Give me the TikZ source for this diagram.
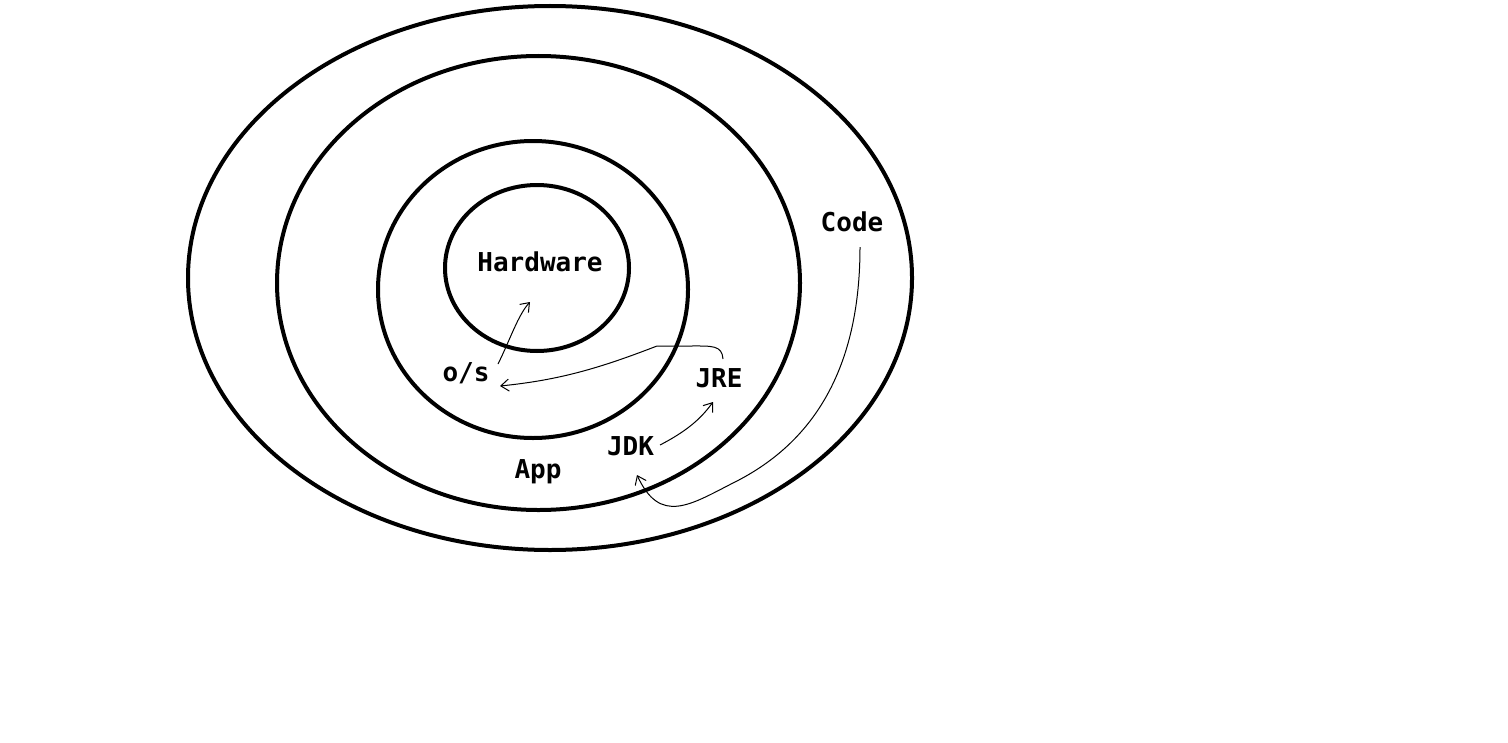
\documentclass[tikz,border=0pt]{standalone}
\usepackage{fontspec}
\setmonofont{DejaVu Sans Mono}
\usetikzlibrary{shapes.geometric,arrows.meta}
\begin{document}
\begin{tikzpicture}[x=0.75pt,y=-0.75pt,
  ring/.style={draw=black,line width=3pt,ellipse,inner sep=0pt},
  lbl/.style={font=\ttfamily\bfseries\fontsize{19.5}{20}\selectfont,inner sep=0pt,anchor=base},
  conn/.style={draw=black,line width=0.75pt,-{Straight Barb[length=6pt,width=9pt]}}]
\useasboundingbox (0,0) rectangle (1508,742);
\fill[white] (0,0) rectangle (1508,742);
\node[ring,minimum width=543pt,minimum height=408pt] (r1) at (550,278) {};
\node[ring,minimum width=392.25pt,minimum height=340.5pt] (r2) at (538.5,283) {};
\node[ring,minimum width=232.5pt,minimum height=222.75pt] (r3) at (533,289.5) {};
\node[ring,minimum width=138pt,minimum height=124.5pt] (r4) at (537,268) {};
\node[lbl] (hw) at (540,271) {Hardware};
\node[lbl] (os) at (466,381) {o/s};
\node[lbl] (jre) at (719,387) {JRE};
\node[lbl] (jdk) at (630.5,455) {JDK};
\node[lbl] (app) at (538,478) {App};
\node[lbl] (code) at (852,231) {Code};
\coordinate (osS) at (498,364);
\coordinate (hwT) at (530,302);
\coordinate (jreS) at (723,359);
\coordinate (osT) at (500,386);
\coordinate (jdkS) at (660,445);
\coordinate (jreT) at (713,402);
\coordinate (codeS) at (860,247);
\coordinate (jdkT) at (637,475);
\draw[conn] (osS) .. controls (510,340) and (518,315) .. (hwT);
\draw[conn] (jreS) .. controls (722,345) and (712,346) .. (690,346)
  -- (657,346) .. controls (600,368) and (560,380) .. (osT);
\draw[conn] (jdkS) .. controls (685,432) and (700,420) .. (jreT);
\draw[conn] (codeS) .. controls (860,360) and (820,440) .. (733,483)
  .. controls (690,505) and (660,525) .. (jdkT);
\end{tikzpicture}
\end{document}
